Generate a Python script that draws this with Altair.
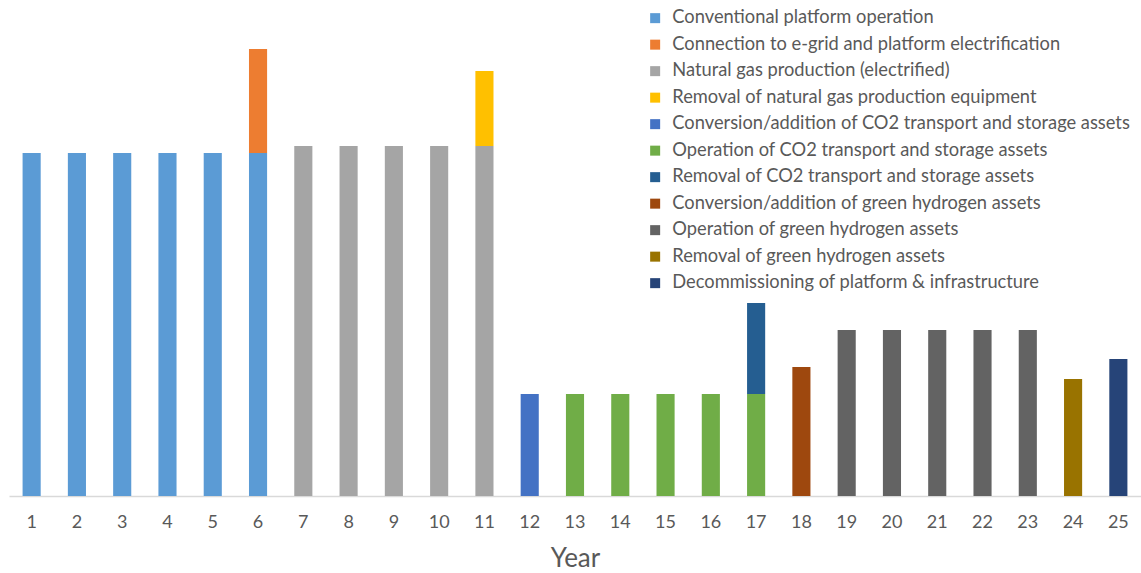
import altair as alt
import pandas as pd

years = list(range(1, 26))
series = [
    "Conventional platform operation",
    "Connection to e-grid and platform electrification",
    "Natural gas production (electrified)",
    "Removal of natural gas production equipment",
    "Conversion/addition of CO2 transport and storage assets",
    "Operation of CO2 transport and storage assets",
    "Removal of CO2 transport and storage assets",
    "Conversion/addition of green hydrogen assets",
    "Operation  of green hydrogen assets",
    "Removal of green hydrogen assets",
    "Decommissioning of platform & infrastructure",
]
colors = ["#5B9BD5", "#ED7D31", "#A5A5A5", "#FFC000", "#4472C4", "#70AD47",
          "#255E91", "#9E480E", "#636363", "#997300", "#264478"]

# values per series (relative heights)
conventional = [343, 343, 343, 343, 343, 343]          # years 1-6
electrification = [104]                                 # year 6
gas_production = [350, 350, 350, 350, 350]             # years 7-11
gas_removal = [75]                                      # year 11
co2_conversion = [102]                                  # year 12
co2_operation = [102, 102, 102, 102, 102]              # years 13-17
co2_removal = [91]                                      # year 17
h2_conversion = [129]                                   # year 18
h2_operation = [166, 166, 166, 166, 166]               # years 19-23
h2_removal = [117]                                      # year 24
decommissioning = [137]                                 # year 25

parts = [
    (0, [1, 2, 3, 4, 5, 6], conventional),
    (1, [6], electrification),
    (2, [7, 8, 9, 10, 11], gas_production),
    (3, [11], gas_removal),
    (4, [12], co2_conversion),
    (5, [13, 14, 15, 16, 17], co2_operation),
    (6, [17], co2_removal),
    (7, [18], h2_conversion),
    (8, [19, 20, 21, 22, 23], h2_operation),
    (9, [24], h2_removal),
    (10, [25], decommissioning),
]
rows = []
for idx, yrs, vals in parts:
    for y, v in zip(yrs, vals):
        rows.append({"Year": y, "Series": series[idx], "order": idx, "Value": v})
df = pd.DataFrame(rows)

FONT = "Lato"
chart = alt.Chart(df).mark_bar(strokeWidth=0).encode(
    x=alt.X("Year:O", scale=alt.Scale(domain=years, paddingInner=0.6, paddingOuter=0.3),
            axis=alt.Axis(title="Year", labelAngle=0, ticks=False, domainColor="#D9D9D9",
                          domainWidth=1.5, labelColor="#595959", labelFontSize=18,
                          labelFont=FONT, labelPadding=17, titleFont=FONT, titleFontSize=26,
                          titleFontWeight="normal", titleColor="#595959", titlePadding=14)),
    y=alt.Y("Value:Q", stack="zero", scale=alt.Scale(domain=[0, 486], nice=False), axis=None),
    color=alt.Color("Series:N", scale=alt.Scale(domain=series, range=colors),
                    legend=alt.Legend(title=None, orient="none", legendX=637, legendY=-1,
                                      symbolType="square", symbolSize=100, symbolStrokeWidth=0,
                                      labelFont=FONT, labelFontSize=18.3, labelColor="#595959",
                                      labelLimit=600, rowPadding=7.5, labelOffset=8)),
    order=alt.Order("order:Q", sort="ascending"),
).properties(
    width=1132, height=486,
    padding={"left": 9, "top": 10, "right": 0, "bottom": 77},
    autosize=alt.AutoSizeParams(type="none"),
    background="white",
).configure_view(strokeWidth=0, stroke=None)

chart.save("out.html", embed_options={"renderer": "svg", "actions": False})
